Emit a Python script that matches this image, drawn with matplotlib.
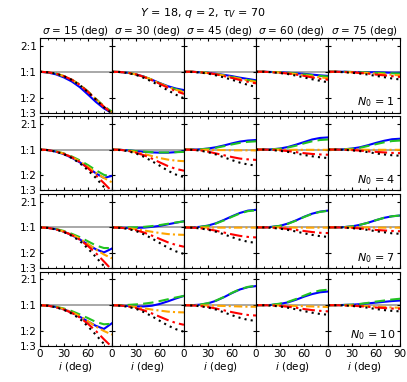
import numpy as np
import matplotlib
matplotlib.use("Agg")
import matplotlib.pyplot as plt

plt.rcParams.update({
    "font.family": "DejaVu Sans",
    "mathtext.fontset": "dejavusans",
    "font.size": 7.5,
})

# inclination grid (deg)
incl = [0, 10, 20, 30, 40, 50, 60, 70, 80, 90]
sigmas = [15, 30, 45, 60, 75]
n0_values = [1, 4, 7, 10]

# log2 flux ratio; indexed [row (N0)][col (sigma)]
blue = [
    [[0, -0.03, -0.10, -0.22, -0.38, -0.60, -0.88, -1.17, -1.42, -1.60],
     [0, -0.01, -0.04, -0.10, -0.19, -0.31, -0.44, -0.56, -0.65, -0.71],
     [0, 0, -0.02, -0.04, -0.08, -0.12, -0.17, -0.23, -0.28, -0.33],
     [0, 0, -0.01, -0.02, -0.04, -0.06, -0.08, -0.11, -0.14, -0.16],
     [0, 0, 0, -0.01, -0.01, -0.02, -0.02, -0.03, -0.04, -0.04]],
    [[0, -0.02, -0.08, -0.18, -0.32, -0.50, -0.70, -0.92, -1.10, -1.02],
     [0, -0.01, -0.03, -0.06, -0.09, -0.11, -0.12, -0.12, -0.10, -0.07],
     [0, 0, 0.01, 0.04, 0.09, 0.16, 0.24, 0.31, 0.35, 0.37],
     [0, 0, 0.01, 0.04, 0.10, 0.19, 0.29, 0.39, 0.45, 0.47],
     [0, 0, 0.01, 0.04, 0.09, 0.17, 0.26, 0.34, 0.40, 0.42]],
    [[0, -0.02, -0.07, -0.17, -0.30, -0.47, -0.66, -0.85, -0.97, -0.82],
     [0, -0.01, -0.02, -0.02, -0.01, 0.02, 0.06, 0.12, 0.18, 0.24],
     [0, 0, 0.02, 0.07, 0.16, 0.29, 0.43, 0.56, 0.65, 0.68],
     [0, 0, 0.02, 0.06, 0.15, 0.27, 0.41, 0.53, 0.61, 0.65],
     [0, 0, 0.01, 0.04, 0.10, 0.18, 0.28, 0.37, 0.43, 0.46]],
    [[0, -0.02, -0.07, -0.16, -0.29, -0.45, -0.63, -0.80, -0.92, -0.70],
     [0, -0.01, -0.03, -0.05, -0.05, -0.02, 0.05, 0.15, 0.26, 0.36],
     [0, 0, 0.02, 0.07, 0.17, 0.31, 0.47, 0.61, 0.70, 0.74],
     [0, 0, 0.01, 0.05, 0.11, 0.21, 0.33, 0.43, 0.50, 0.53],
     [0, 0, 0.01, 0.02, 0.04, 0.07, 0.10, 0.13, 0.16, 0.18]],
]

green = [
    [[0, -0.02, -0.07, -0.17, -0.31, -0.50, -0.76, -1.05, -1.33, -1.55],
     [0, -0.01, -0.04, -0.10, -0.19, -0.31, -0.45, -0.58, -0.68, -0.76],
     [0, 0, -0.02, -0.04, -0.09, -0.14, -0.20, -0.26, -0.32, -0.37],
     [0, 0, -0.01, -0.02, -0.04, -0.07, -0.10, -0.13, -0.16, -0.19],
     [0, 0, 0, -0.01, -0.02, -0.03, -0.04, -0.05, -0.06, -0.07]],
    [[0, -0.02, -0.07, -0.15, -0.27, -0.42, -0.60, -0.80, -0.98, -1.05],
     [0, -0.01, -0.03, -0.06, -0.08, -0.10, -0.11, -0.11, -0.10, -0.09],
     [0, 0, 0.01, 0.03, 0.07, 0.13, 0.20, 0.26, 0.30, 0.32],
     [0, 0, 0.01, 0.03, 0.08, 0.15, 0.24, 0.32, 0.37, 0.39],
     [0, 0, 0.01, 0.03, 0.07, 0.14, 0.21, 0.28, 0.33, 0.35]],
    [[0, -0.02, -0.06, -0.14, -0.25, -0.38, -0.54, -0.70, -0.80, -0.80],
     [0, 0, 0, 0, 0.02, 0.05, 0.09, 0.14, 0.19, 0.23],
     [0, 0, 0.02, 0.06, 0.15, 0.27, 0.41, 0.54, 0.63, 0.66],
     [0, 0, 0.02, 0.06, 0.14, 0.26, 0.40, 0.52, 0.60, 0.64],
     [0, 0, 0.01, 0.04, 0.10, 0.18, 0.28, 0.37, 0.43, 0.46]],
    [[0, -0.02, -0.06, -0.13, -0.23, -0.36, -0.50, -0.65, -0.74, -0.72],
     [0, 0, 0.01, 0.03, 0.06, 0.10, 0.16, 0.23, 0.30, 0.36],
     [0, 0, 0.02, 0.08, 0.18, 0.32, 0.48, 0.62, 0.71, 0.75],
     [0, 0, 0.02, 0.06, 0.13, 0.24, 0.37, 0.49, 0.57, 0.60],
     [0, 0, 0.01, 0.02, 0.05, 0.09, 0.14, 0.18, 0.22, 0.25]],
]

orange = [
    [[0, -0.02, -0.07, -0.17, -0.31, -0.51, -0.77, -1.06, -1.35, -1.57],
     [0, -0.01, -0.04, -0.10, -0.19, -0.31, -0.45, -0.59, -0.70, -0.80],
     [0, 0, -0.02, -0.05, -0.09, -0.15, -0.21, -0.28, -0.34, -0.40],
     [0, 0, -0.01, -0.03, -0.06, -0.09, -0.13, -0.18, -0.22, -0.25],
     [0, 0, -0.01, -0.02, -0.03, -0.05, -0.07, -0.10, -0.12, -0.14]],
    [[0, -0.02, -0.07, -0.16, -0.29, -0.46, -0.67, -0.90, -1.10, -1.27],
     [0, -0.01, -0.04, -0.10, -0.17, -0.25, -0.33, -0.39, -0.43, -0.45],
     [0, 0, -0.01, -0.01, -0.02, -0.02, -0.03, -0.03, -0.03, -0.03],
     [0, 0, 0, -0.01, -0.01, -0.01, -0.01, -0.01, -0.01, -0.01],
     [0, 0, 0, 0, 0, -0.01, -0.01, -0.01, -0.01, -0.01]],
    [[0, -0.02, -0.07, -0.16, -0.28, -0.44, -0.64, -0.86, -1.05, -1.20],
     [0, -0.01, -0.03, -0.07, -0.12, -0.17, -0.22, -0.26, -0.28, -0.29],
     [0, 0, 0, -0.01, -0.01, -0.01, -0.01, -0.01, -0.01, -0.01],
     [0, 0, 0, 0, 0, -0.01, -0.01, -0.01, -0.01, -0.01],
     [0, 0, 0, 0, 0, 0, -0.01, -0.01, -0.01, -0.01]],
    [[0, -0.02, -0.07, -0.15, -0.27, -0.43, -0.62, -0.83, -1.00, -1.14],
     [0, -0.01, -0.03, -0.07, -0.12, -0.17, -0.21, -0.25, -0.27, -0.28],
     [0, 0, -0.01, -0.01, -0.02, -0.03, -0.04, -0.05, -0.06, -0.06],
     [0, 0, -0.01, -0.01, -0.02, -0.03, -0.04, -0.05, -0.06, -0.07],
     [0, 0, -0.01, -0.01, -0.02, -0.04, -0.05, -0.07, -0.09, -0.10]],
]

red = [
    [[0, -0.02, -0.07, -0.17, -0.31, -0.51, -0.78, -1.07, -1.36, -1.60],
     [0, -0.01, -0.04, -0.10, -0.20, -0.33, -0.47, -0.62, -0.75, -0.86],
     [0, 0, -0.02, -0.05, -0.10, -0.17, -0.24, -0.32, -0.39, -0.45],
     [0, 0, -0.02, -0.04, -0.07, -0.11, -0.16, -0.22, -0.27, -0.31],
     [0, 0, -0.01, -0.02, -0.05, -0.07, -0.11, -0.14, -0.17, -0.20]],
    [[0, -0.02, -0.08, -0.17, -0.30, -0.48, -0.72, -1.00, -1.30, -1.62],
     [0, -0.01, -0.05, -0.12, -0.22, -0.35, -0.50, -0.64, -0.75, -0.82],
     [0, -0.01, -0.03, -0.08, -0.15, -0.22, -0.29, -0.35, -0.38, -0.40],
     [0, 0, -0.01, -0.03, -0.06, -0.10, -0.14, -0.17, -0.19, -0.20],
     [0, 0, -0.01, -0.02, -0.04, -0.07, -0.09, -0.11, -0.13, -0.14]],
    [[0, -0.02, -0.08, -0.17, -0.30, -0.48, -0.72, -1.00, -1.32, -1.65],
     [0, -0.01, -0.05, -0.11, -0.20, -0.32, -0.45, -0.58, -0.68, -0.75],
     [0, -0.01, -0.03, -0.07, -0.13, -0.20, -0.27, -0.33, -0.37, -0.39],
     [0, 0, -0.01, -0.03, -0.06, -0.10, -0.14, -0.18, -0.21, -0.22],
     [0, 0, -0.01, -0.02, -0.04, -0.07, -0.10, -0.12, -0.14, -0.15]],
    [[0, -0.02, -0.08, -0.17, -0.30, -0.48, -0.72, -1.00, -1.32, -1.62],
     [0, -0.01, -0.05, -0.11, -0.20, -0.32, -0.45, -0.58, -0.69, -0.76],
     [0, -0.01, -0.03, -0.07, -0.13, -0.20, -0.27, -0.33, -0.38, -0.40],
     [0, 0, -0.01, -0.03, -0.06, -0.10, -0.15, -0.19, -0.22, -0.24],
     [0, 0, -0.01, -0.02, -0.04, -0.06, -0.09, -0.11, -0.13, -0.14]],
]

black = [
    [[0, -0.02, -0.07, -0.17, -0.32, -0.52, -0.79, -1.08, -1.37, -1.62],
     [0, -0.01, -0.05, -0.12, -0.24, -0.38, -0.55, -0.72, -0.89, -1.03],
     [0, -0.01, -0.03, -0.07, -0.14, -0.22, -0.31, -0.41, -0.51, -0.59],
     [0, 0, -0.02, -0.05, -0.09, -0.15, -0.22, -0.29, -0.35, -0.41],
     [0, 0, -0.02, -0.04, -0.07, -0.11, -0.16, -0.21, -0.26, -0.30]],
    [[0, -0.02, -0.08, -0.18, -0.33, -0.53, -0.80, -1.10, -1.45, -1.80],
     [0, -0.02, -0.06, -0.15, -0.28, -0.45, -0.63, -0.82, -0.97, -1.07],
     [0, -0.01, -0.04, -0.10, -0.19, -0.30, -0.41, -0.51, -0.58, -0.62],
     [0, 0, -0.02, -0.05, -0.09, -0.15, -0.21, -0.26, -0.30, -0.33],
     [0, 0, -0.01, -0.03, -0.06, -0.10, -0.15, -0.19, -0.22, -0.24]],
    [[0, -0.02, -0.08, -0.18, -0.33, -0.53, -0.82, -1.15, -1.50, -1.85],
     [0, -0.02, -0.06, -0.14, -0.27, -0.43, -0.61, -0.79, -0.93, -1.03],
     [0, -0.01, -0.04, -0.09, -0.17, -0.27, -0.38, -0.48, -0.56, -0.60],
     [0, 0, -0.02, -0.05, -0.10, -0.16, -0.23, -0.29, -0.34, -0.37],
     [0, 0, -0.01, -0.03, -0.06, -0.10, -0.15, -0.19, -0.23, -0.25]],
    [[0, -0.02, -0.08, -0.18, -0.33, -0.53, -0.82, -1.15, -1.50, -1.85],
     [0, -0.02, -0.06, -0.14, -0.27, -0.43, -0.61, -0.79, -0.93, -1.03],
     [0, -0.01, -0.04, -0.09, -0.17, -0.28, -0.39, -0.49, -0.57, -0.61],
     [0, 0, -0.02, -0.05, -0.10, -0.16, -0.23, -0.29, -0.34, -0.37],
     [0, 0, -0.01, -0.03, -0.06, -0.10, -0.15, -0.19, -0.22, -0.24]],
]

ytick_vals = [1, 0, -1, -np.log2(3)]
ytick_labels = ["2:1", "1:1", "1:2", "1:3"]

styles = [
    (blue, dict(color="blue", ls="-")),
    (green, dict(color="#22c322", ls=(0, (5, 2.5)))),
    (orange, dict(color="orange", ls=(0, (4, 1.5, 1, 1.5)))),
    (red, dict(color="red", ls=(0, (6, 2, 1.2, 2)))),
    (black, dict(color="black", ls=(0, (1, 2)))),
]

fig, axes = plt.subplots(4, 5, figsize=(4.07, 3.82), dpi=100)
fig.subplots_adjust(left=0.098, right=0.983, top=0.900, bottom=0.094,
                    wspace=0, hspace=0.045)

for r in range(4):
    for c in range(5):
        ax = axes[r, c]
        ax.axhline(0, color="0.6", lw=1.2, zorder=1)
        for data, st in styles:
            ax.plot(incl, data[r][c], lw=1.5, zorder=2, **st)
        ax.set_xlim(0, 90)
        ax.set_ylim(-np.log2(3), 1.3)
        ax.set_xticks([0, 30, 60, 90])
        ax.set_xticks(range(0, 91, 10), minor=True)
        ax.set_yticks(ytick_vals)
        ax.tick_params(which="both", direction="in", top=True, right=True,
                       length=2, pad=2)
        ax.tick_params(which="minor", length=1.2)
        if c == 0:
            ax.set_yticklabels(ytick_labels)
        else:
            ax.set_yticklabels([])
        if r == 3:
            ax.set_xlabel(r"$i$ (deg)", labelpad=1)
            if c < 4:
                ax.set_xticklabels(["0", "30", "60", ""])
            else:
                ax.set_xticklabels(["0", "30", "60", "90"])
        else:
            ax.set_xticklabels([])
        if r == 0:
            ax.set_title(rf"$\sigma$ = {sigmas[c]} (deg)", fontsize=7.5, pad=2)
        if c == 4:
            ax.text(0.93, 0.05, rf"$N_0$ = {n0_values[r]}",
                    transform=ax.transAxes, ha="right", va="bottom",
                    fontsize=8)

fig.suptitle(r"$Y$ = 18, $q$ = 2, $\tau_V$ = 70", fontsize=8, y=0.985)

fig.savefig("out.png", dpi=100)
